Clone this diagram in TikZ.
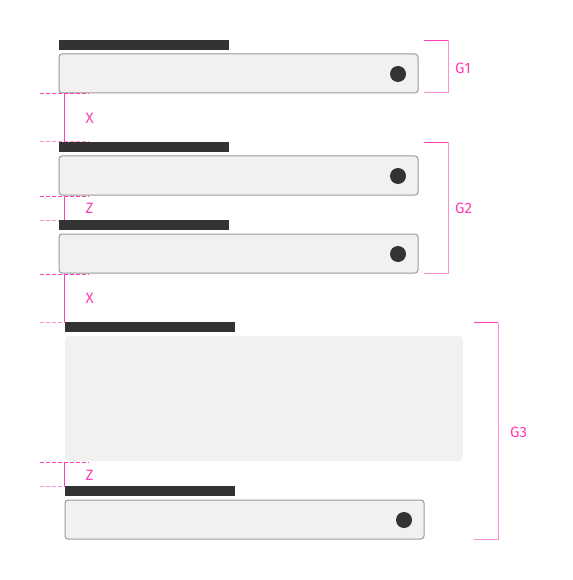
\documentclass[tikz,border=0pt]{standalone}
\usepackage{fontspec}
\setmainfont{Fira Sans}
\definecolor{pk}{HTML}{FF3DB4}
\definecolor{pkl}{HTML}{FF8FD2}
\definecolor{fieldfill}{HTML}{F2F0F1}
\definecolor{fieldline}{HTML}{9A9A9A}
\definecolor{barc}{HTML}{333333}
\begin{document}
\begin{tikzpicture}[x=1pt,y=-1pt,
  fieldbox/.style={draw=fieldline,fill=fieldfill,line width=1pt,rounded corners=3pt,anchor=north west,inner sep=0pt,outer sep=0pt,minimum height=39pt},
  bigbox/.style={fill=fieldfill,rounded corners=4pt,anchor=north west,inner sep=0pt,outer sep=0pt,minimum width=398pt,minimum height=125pt},
  labelbar/.style={fill=barc,anchor=north west,inner sep=0pt,outer sep=0pt,minimum width=170pt,minimum height=10pt},
  knob/.style={circle,fill=barc,inner sep=0pt,minimum size=16pt},
  dimline/.style={draw=pk,line width=1pt},
  dimdash/.style={draw=pk,line width=1pt,dash pattern=on 3.5pt off 2.5pt},
  dimdashl/.style={draw=pkl,line width=1pt,dash pattern=on 3.5pt off 2.5pt},
  brk/.style={draw=pkl,line width=1pt},
  brktop/.style={draw=pk,line width=1pt},
  dimlabel/.style={text=pk,font=\fontsize{15}{17}\selectfont,anchor=west,inner sep=0pt}
]
\useasboundingbox (0,0) rectangle (572,580);
% group 1
\node[labelbar] (b1) at (59,40) {};
\node[fieldbox,minimum width=359pt] (f1) at (59,54) {};
\node[knob] (k1) at (398,74) {};
% X 1
\coordinate (x1a) at (40,94); \coordinate (x1b) at (89,94);
\coordinate (x1c) at (40,142); \coordinate (x1d) at (89,142);
\draw[dimdash] (x1a) -- (x1b);
\draw[dimdashl] (x1c) -- (x1d);
\coordinate (x1t) at (64,94); \coordinate (x1u) at (64,142);
\draw[dimline] (x1t) -- (x1u);
\node[dimlabel] (lx1) at (85.5,118) {X};
% group 2
\node[labelbar] (b2) at (59,142) {};
\node[fieldbox,minimum width=359pt] (f2) at (59,156) {};
\node[knob] (k2) at (398,176) {};
% Z 1
\coordinate (z1a) at (40,196); \coordinate (z1b) at (89,196);
\coordinate (z1c) at (40,220); \coordinate (z1d) at (89,220);
\draw[dimdash] (z1a) -- (z1b);
\draw[dimdashl] (z1c) -- (z1d);
\coordinate (z1t) at (64,196); \coordinate (z1u) at (64,220);
\draw[dimline] (z1t) -- (z1u);
\node[dimlabel] (lz1) at (85.5,208) {Z};
\node[labelbar] (b3) at (59,220) {};
\node[fieldbox,minimum width=359pt] (f3) at (59,234) {};
\node[knob] (k3) at (398,254) {};
% X 2
\coordinate (x2a) at (40,274); \coordinate (x2b) at (89,274);
\coordinate (x2c) at (40,322); \coordinate (x2d) at (89,322);
\draw[dimdash] (x2a) -- (x2b);
\draw[dimdashl] (x2c) -- (x2d);
\coordinate (x2t) at (64,274); \coordinate (x2u) at (64,322);
\draw[dimline] (x2t) -- (x2u);
\node[dimlabel] (lx2) at (85.5,298) {X};
% group 3
\node[labelbar] (b4) at (65,322) {};
\node[bigbox] (bb) at (65,336) {};
% Z 2
\coordinate (z2a) at (40,462); \coordinate (z2b) at (89,462);
\coordinate (z2c) at (40,486); \coordinate (z2d) at (89,486);
\draw[dimdash] (z2a) -- (z2b);
\draw[dimdashl] (z2c) -- (z2d);
\coordinate (z2t) at (64,462); \coordinate (z2u) at (64,486);
\draw[dimline] (z2t) -- (z2u);
\node[dimlabel] (lz2) at (85.5,475) {Z};
\node[labelbar] (b5) at (65,486) {};
\node[fieldbox,minimum width=359pt] (f5) at (65,500) {};
\node[knob] (k5) at (404,520) {};
% brackets
\coordinate (g1a) at (424,40.5); \coordinate (g1b) at (448,40.5);
\coordinate (g1c) at (448,93); \coordinate (g1d) at (424,93);
\draw[brk] (g1b) -- (g1c) -- (g1d);
\draw[brktop] (g1a) -- (g1b);
\node[dimlabel] (g1l) at (455,68) {G1};
\coordinate (g2a) at (424,142.5); \coordinate (g2b) at (448,142.5);
\coordinate (g2c) at (448,273); \coordinate (g2d) at (424,273);
\draw[brk] (g2b) -- (g2c) -- (g2d);
\draw[brktop] (g2a) -- (g2b);
\node[dimlabel] (g2l) at (455,208) {G2};
\coordinate (g3a) at (474,322.5); \coordinate (g3b) at (498,322.5);
\coordinate (g3c) at (498,539.5); \coordinate (g3d) at (474,539.5);
\draw[brk] (g3b) -- (g3c) -- (g3d);
\draw[brktop] (g3a) -- (g3b);
\node[dimlabel] (g3l) at (510,432) {G3};
\end{tikzpicture}
\end{document}
